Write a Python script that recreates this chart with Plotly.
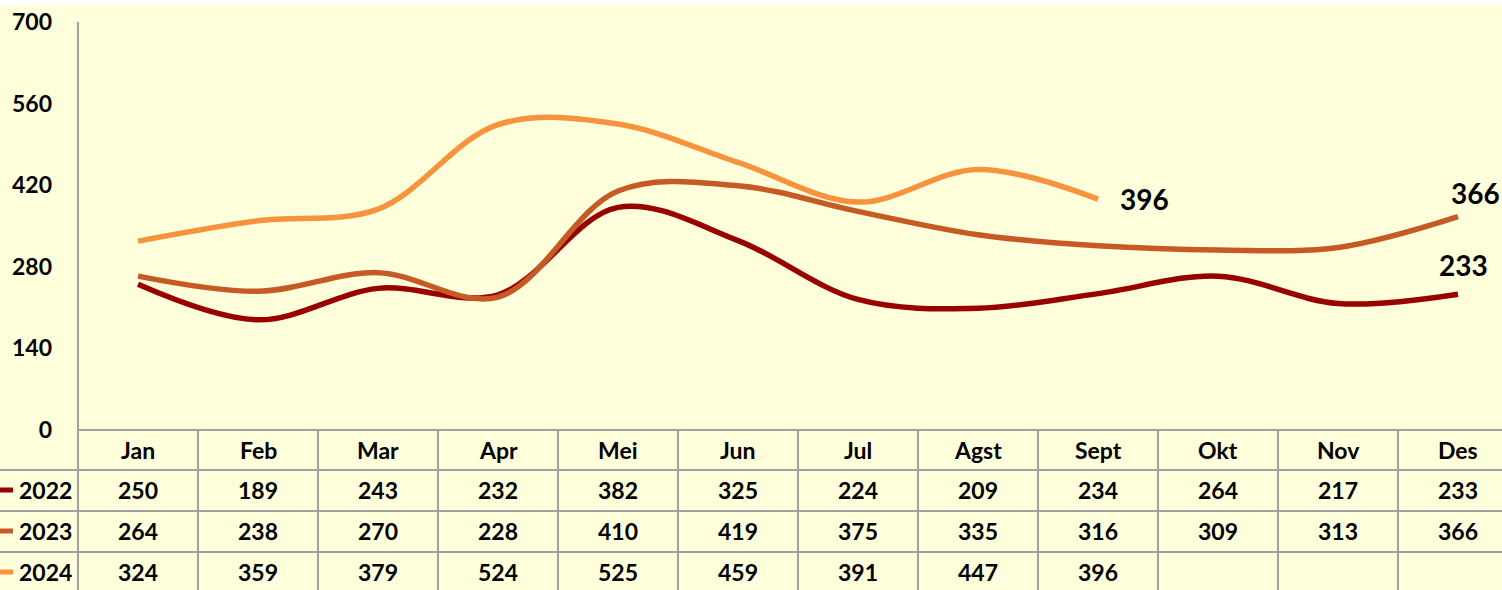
import plotly.graph_objects as go

months = ["Jan", "Feb", "Mar", "Apr", "Mei", "Jun", "Jul", "Agst", "Sept", "Okt", "Nov", "Des"]
series_names = ["2022", "2023", "2024"]
v2022 = [250, 189, 243, 232, 382, 325, 224, 209, 234, 264, 217, 233]
v2023 = [264, 238, 270, 228, 410, 419, 375, 335, 316, 309, 313, 366]
v2024 = [324, 359, 379, 524, 525, 459, 391, 447, 396, None, None, None]
y_ticks = [0, 140, 280, 420, 560, 700]

series_values = [v2022, v2023, v2024]
colors = ["#990000", "#C55A24", "#F7923D"]

W, H = 1502, 590
ML, MT, MB, MR = 78, 22, 160, 0
PW = W - ML - MR
PH = H - MT - MB
BG = "#FFFFDC"
GRID = "#A0A0A0"
FONT = "Lato"
FS = 23


def py2paper(py):
    return (H - MB - py) / PH


def px2paper(px):
    return (px - ML) / PW


xs = list(range(len(months)))
x_right = (W - ML) / 120.0 - 0.5

fig = go.Figure()
for name, vals, col in zip(series_names, series_values, colors):
    pts = [(x, v) for x, v in zip(xs, vals) if v is not None]
    fig.add_trace(go.Scatter(
        x=[p[0] for p in pts], y=[p[1] for p in pts], name=name,
        mode="lines", line=dict(color=col, width=5.5, shape="spline", smoothing=1.0),
        showlegend=False, hoverinfo="skip"))

shapes = []
# top white strip
shapes.append(dict(type="rect", xref="paper", yref="paper", x0=px2paper(0), x1=1.0,
                   y0=py2paper(5), y1=py2paper(0), fillcolor="white", line=dict(width=0), layer="below"))
# y axis line / table left boundary
shapes.append(dict(type="line", xref="paper", yref="paper", x0=0, x1=0,
                   y0=1, y1=py2paper(H), line=dict(color=GRID, width=2)))
# header top line
shapes.append(dict(type="line", xref="paper", yref="paper", x0=0, x1=1,
                   y0=0, y1=0, line=dict(color=GRID, width=2)))
# row lines
row_lines = [470, 511, 552]
for ry in row_lines:
    shapes.append(dict(type="line", xref="paper", yref="paper", x0=px2paper(0), x1=1,
                       y0=py2paper(ry), y1=py2paper(ry), line=dict(color=GRID, width=2)))
# column lines
for i in range(1, len(months) + 1):
    shapes.append(dict(type="line", xref="x", yref="paper", x0=i - 0.5, x1=i - 0.5,
                       y0=0, y1=py2paper(H), line=dict(color=GRID, width=2)))

cell_font = dict(family=FONT, size=FS, color="black", weight="bold")
annotations = []
row_centers = [450, 490, 531, 572]
for i, m in enumerate(months):
    annotations.append(dict(x=i, y=py2paper(row_centers[0]), xref="x", yref="paper",
                            text=m, showarrow=False, xanchor="center", yanchor="middle", font=cell_font))
for r, (name, vals, col) in enumerate(zip(series_names, series_values, colors)):
    yc = py2paper(row_centers[r + 1])
    for i, v in enumerate(vals):
        if v is None:
            continue
        annotations.append(dict(x=i, y=yc, xref="x", yref="paper", text=str(v), showarrow=False,
                                xanchor="center", yanchor="middle", font=cell_font))
    annotations.append(dict(x=px2paper(17), y=yc, xref="paper", yref="paper", text=name,
                            showarrow=False, xanchor="left", yanchor="middle", font=cell_font))
    shapes.append(dict(type="line", xref="paper", yref="paper", x0=px2paper(-2), x1=px2paper(13),
                       y0=yc, y1=yc, line=dict(color=col, width=5)))

# end-of-series data labels
label_offsets = [(5, 29, "center"), (17, 24, "center"), (20, 0, "left")]
for vals, (xsh, ysh, anc) in zip(series_values, label_offsets):
    last = max(i for i, v in enumerate(vals) if v is not None)
    annotations.append(dict(x=last, y=vals[last], xref="x", yref="y", text=str(vals[last]),
                            showarrow=False, xanchor=anc, yanchor="middle", xshift=xsh, yshift=ysh,
                            font=dict(family=FONT, size=28, color="black", weight="bold")))

fig.update_layout(
    width=W, height=H,
    margin=dict(l=ML, r=MR, t=MT, b=MB, pad=0),
    paper_bgcolor=BG, plot_bgcolor=BG,
    shapes=shapes, annotations=annotations,
    xaxis=dict(range=[-0.5, x_right], showgrid=False, zeroline=False, showline=False,
               showticklabels=False, ticks="", fixedrange=True),
    yaxis=dict(range=[0, 700], tickvals=y_ticks, ticktext=[str(t) for t in y_ticks],
               showgrid=False, zeroline=False, showline=False, ticks="",
               ticklabelstandoff=25,
               tickfont=dict(family=FONT, size=FS, color="black", weight="bold")),
    showlegend=False,
)

fig.write_html("out.html", config={"displayModeBar": False},
               post_script="document.body.style.margin='0';document.body.style.overflow='hidden';")
